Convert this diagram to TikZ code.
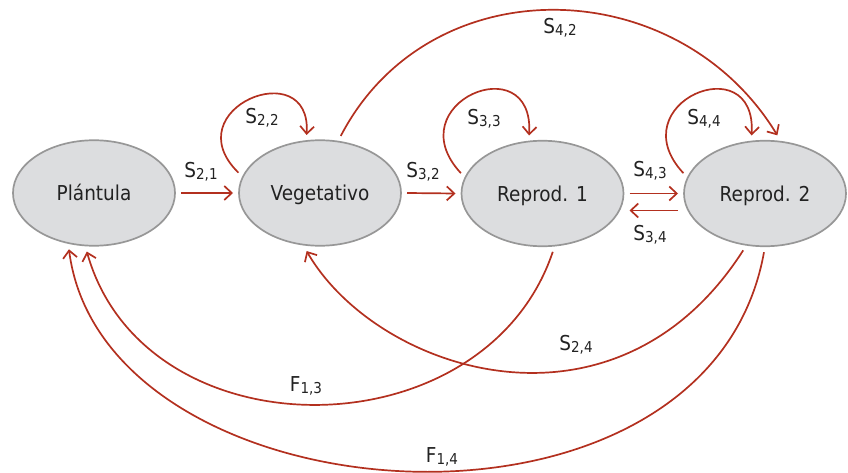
\documentclass[tikz,border=0pt]{standalone}
\usepackage{fontspec}
\setmainfont{DejaVu Sans}[FakeStretch=0.9]
\usetikzlibrary{arrows.meta,shapes.geometric}
\definecolor{statefill}{HTML}{DCDDDF}
\definecolor{stateborder}{HTML}{979797}
\definecolor{arrowred}{HTML}{B3301F}
\definecolor{textdark}{HTML}{222222}
\newcommand{\lab}[2]{#1\raisebox{-2pt}{\fontsize{15}{16}\selectfont #2}}
\begin{document}
\begin{tikzpicture}[x=1pt,y=-1pt,
  state/.style={ellipse, draw=stateborder, fill=statefill, line width=1.7pt,
    minimum width=162pt, minimum height=105.5pt, inner sep=0pt, outer sep=6pt,
    text height=15pt, text depth=0pt,
    text=textdark, font=\fontsize{20.5}{24}\selectfont},
  conn/.style={draw=arrowred, line width=1.7pt, -{Straight Barb[length=7.5pt,width=14pt]}},
  lbl/.style={text=textdark, font=\fontsize{20.5}{24}\selectfont, inner sep=0pt}]
\useasboundingbox (0,0) rectangle (848,473);
\node[state] (p)   at (94,193)    {Plántula};
\node[state] (veg) at (320,193)   {Vegetativo};
\node[state] (r1)  at (542.5,193.5) {Reprod. 1};
\node[state] (r2)  at (765,193.5) {Reprod. 2};
% straight arrows
\draw[conn] (p.east) -- (veg.west);
\draw[conn] (veg.east) -- (r1.west);
\draw[conn] (r1.east) -- (r2.west);
\draw[conn] ([yshift=-17pt]r2.west) -- ([yshift=-17pt]r1.east);
% self loops
\draw[conn] (veg.166) .. controls +(-65,-64) and +(5,-82) .. (veg.103);
\draw[conn] (r1.166) .. controls +(-65,-70) and +(5,-90) .. (r1.103);
\draw[conn] (r2.166) .. controls +(-65,-70) and +(5,-90) .. (r2.103);
% long arcs
\draw[conn] (veg.70) .. controls +(89,-171) and +(-100,-164) .. (r2.78);
\draw[conn] (r1.-80) .. controls +(-68.5,203) and +(58,205) .. (p.-97);
\draw[conn] (r2.-91) .. controls +(-56.6,315) and +(35,273) .. (p.-114);
\draw[conn] (r2.-111) .. controls +(-128,200) and +(70,121) .. (veg.-103);
% labels
\node[lbl] (l21) at (201,172) {\lab{S}{2,1}};
\node[lbl] (l32) at (423,172) {\lab{S}{3,2}};
\node[lbl] (l43) at (650,171) {\lab{S}{4,3}};
\node[lbl] (l34) at (650,235) {\lab{S}{3,4}};
\node[lbl] (l22) at (262,118) {\lab{S}{2,2}};
\node[lbl] (l33) at (484,119) {\lab{S}{3,3}};
\node[lbl] (l44) at (704,119) {\lab{S}{4,4}};
\node[lbl] (l42) at (560,28)  {\lab{S}{4,2}};
\node[lbl] (l24) at (576,345) {\lab{S}{2,4}};
\node[lbl] (l13) at (306,386) {\lab{F}{1,3}};
\node[lbl] (l14) at (442,457) {\lab{F}{1,4}};
\end{tikzpicture}
\end{document}
